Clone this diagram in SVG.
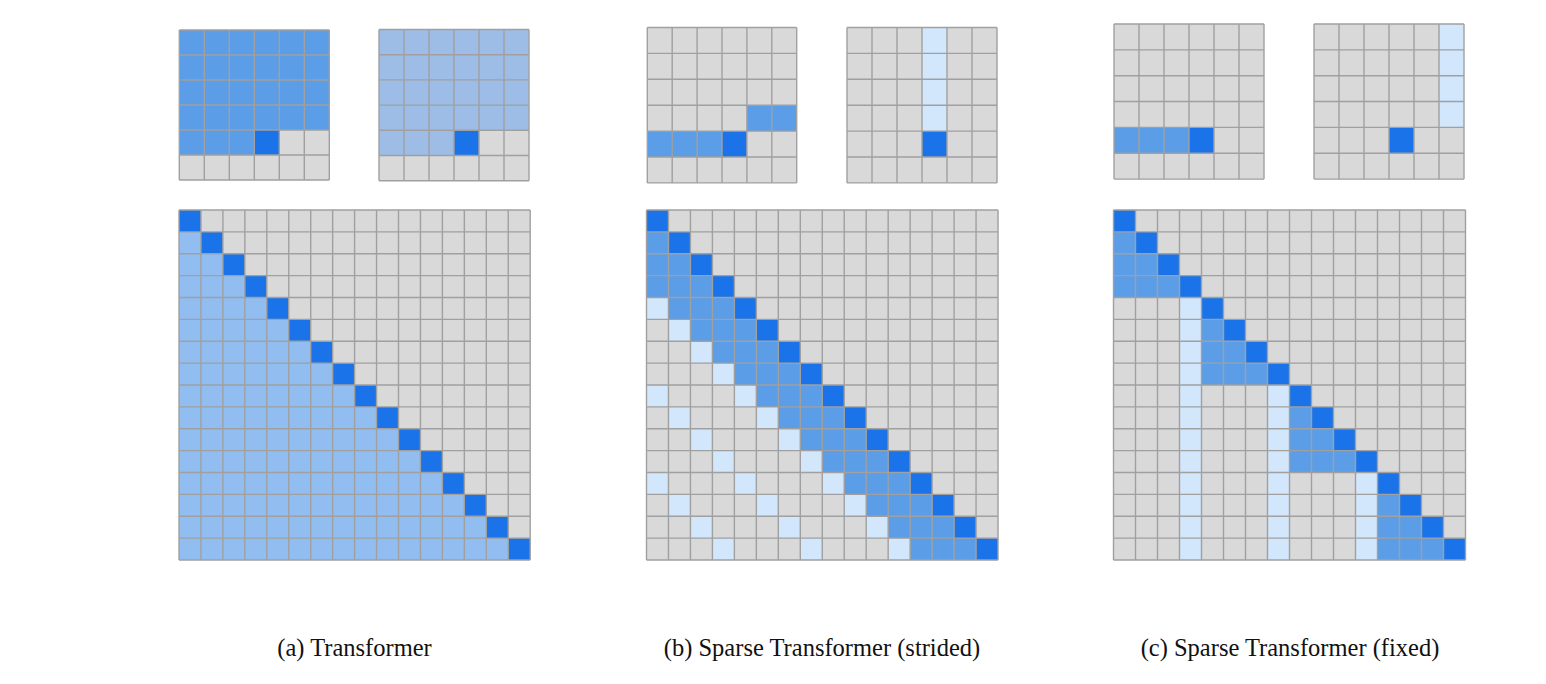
<svg xmlns="http://www.w3.org/2000/svg" xmlns:xlink="http://www.w3.org/1999/xlink" width="1546" height="684" viewBox="0 0 1546 684">
<style>
.bg{fill:#d9d9d9}
.dk{fill:#1a73e8}
.md{fill:#5c9de8}
.ls{fill:#9dbde6}
.lb{fill:#92bdf0}
.vl{fill:#d2e6fc}
.grid{fill:none;stroke:#a0a0a0;stroke-width:1.4;vector-effect:non-scaling-stroke}
.cap{font-family:"Liberation Serif","Times New Roman",serif;font-size:24.5px;fill:#111;text-anchor:middle}
</style>
<defs>
<path id="g6" class="grid" d="M0 0V6M1 0V6M2 0V6M3 0V6M4 0V6M5 0V6M6 0V6M0 0H6M0 1H6M0 2H6M0 3H6M0 4H6M0 5H6M0 6H6"/>
<path id="g16" class="grid" d="M0 0V16M1 0V16M2 0V16M3 0V16M4 0V16M5 0V16M6 0V16M7 0V16M8 0V16M9 0V16M10 0V16M11 0V16M12 0V16M13 0V16M14 0V16M15 0V16M16 0V16M0 0H16M0 1H16M0 2H16M0 3H16M0 4H16M0 5H16M0 6H16M0 7H16M0 8H16M0 9H16M0 10H16M0 11H16M0 12H16M0 13H16M0 14H16M0 15H16M0 16H16"/>
<path id="diag16" d="M0 0h1v1h-1zM1 1h1v1h-1zM2 2h1v1h-1zM3 3h1v1h-1zM4 4h1v1h-1zM5 5h1v1h-1zM6 6h1v1h-1zM7 7h1v1h-1zM8 8h1v1h-1zM9 9h1v1h-1zM10 10h1v1h-1zM11 11h1v1h-1zM12 12h1v1h-1zM13 13h1v1h-1zM14 14h1v1h-1zM15 15h1v1h-1z"/>
<polygon id="tri4" points="0,1 1,1 1,2 2,2 2,3 3,3 3,4 0,4"/>
</defs>

<!-- (a) Transformer -->
<g id="a-small-1" transform="translate(179.3,30) scale(25,25)">
<rect class="bg" x="0" y="0" width="6" height="6"/>
<path class="md" d="M0 0H6V4H3V5H0Z"/>
<rect class="dk" x="3" y="4" width="1" height="1"/>
<use xlink:href="#g6"/>
</g>
<g id="a-small-2" transform="translate(379,29.5) scale(25,25.2)">
<rect class="bg" x="0" y="0" width="6" height="6"/>
<path class="ls" d="M0 0H6V4H3V5H0Z"/>
<rect class="dk" x="3" y="4" width="1" height="1"/>
<use xlink:href="#g6"/>
</g>
<g id="a-big" transform="translate(179,210) scale(21.95,21.875)">
<rect class="bg" x="0" y="0" width="16" height="16"/>
<polygon class="lb" points="0,1 1,1 1,2 2,2 2,3 3,3 3,4 4,4 4,5 5,5 5,6 6,6 6,7 7,7 7,8 8,8 8,9 9,9 9,10 10,10 10,11 11,11 11,12 12,12 12,13 13,13 13,14 14,14 14,15 15,15 15,16 0,16"/>
<use class="dk" xlink:href="#diag16"/>
<use xlink:href="#g16"/>
</g>

<!-- (b) Sparse Transformer (strided) -->
<g id="b-small-1" transform="translate(647.3,27.5) scale(24.9,25.9)">
<rect class="bg" x="0" y="0" width="6" height="6"/>
<rect class="md" x="4" y="3" width="2" height="1"/>
<rect class="md" x="0" y="4" width="3" height="1"/>
<rect class="dk" x="3" y="4" width="1" height="1"/>
<use xlink:href="#g6"/>
</g>
<g id="b-small-2" transform="translate(847,27.5) scale(25,25.9)">
<rect class="bg" x="0" y="0" width="6" height="6"/>
<rect class="vl" x="3" y="0" width="1" height="4"/>
<rect class="dk" x="3" y="4" width="1" height="1"/>
<use xlink:href="#g6"/>
</g>
<g id="b-big" transform="translate(646.5,210) scale(21.97,21.875)">
<rect class="bg" x="0" y="0" width="16" height="16"/>
<polygon class="md" points="0,1 1,1 1,2 2,2 2,3 3,3 3,4 4,4 4,5 5,5 5,6 6,6 6,7 7,7 7,8 8,8 8,9 9,9 9,10 10,10 10,11 11,11 11,12 12,12 12,13 13,13 13,14 14,14 14,15 15,15 15,16 12,16 12,15 11,15 11,14 10,14 10,13 9,13 9,12 8,12 8,11 7,11 7,10 6,10 6,9 5,9 5,8 4,8 4,7 3,7 3,6 2,6 2,5 1,5 1,4 0,4"/>
<path class="vl" d="M0 4h1v1h-1zM1 5h1v1h-1zM2 6h1v1h-1zM3 7h1v1h-1zM4 8h1v1h-1zM5 9h1v1h-1zM6 10h1v1h-1zM7 11h1v1h-1zM8 12h1v1h-1zM9 13h1v1h-1zM10 14h1v1h-1zM11 15h1v1h-1zM0 8h1v1h-1zM1 9h1v1h-1zM2 10h1v1h-1zM3 11h1v1h-1zM4 12h1v1h-1zM5 13h1v1h-1zM6 14h1v1h-1zM7 15h1v1h-1zM0 12h1v1h-1zM1 13h1v1h-1zM2 14h1v1h-1zM3 15h1v1h-1z"/>
<use class="dk" xlink:href="#diag16"/>
<use xlink:href="#g16"/>
</g>

<!-- (c) Sparse Transformer (fixed) -->
<g id="c-small-1" transform="translate(1114,24) scale(25,25.85)">
<rect class="bg" x="0" y="0" width="6" height="6"/>
<rect class="md" x="0" y="4" width="3" height="1"/>
<rect class="dk" x="3" y="4" width="1" height="1"/>
<use xlink:href="#g6"/>
</g>
<g id="c-small-2" transform="translate(1314,24) scale(25,25.85)">
<rect class="bg" x="0" y="0" width="6" height="6"/>
<rect class="vl" x="5" y="0" width="1" height="4"/>
<rect class="dk" x="3" y="4" width="1" height="1"/>
<use xlink:href="#g6"/>
</g>
<g id="c-big" transform="translate(1113.5,210) scale(22,21.875)">
<rect class="bg" x="0" y="0" width="16" height="16"/>
<use class="md" xlink:href="#tri4"/>
<use class="md" xlink:href="#tri4" x="4" y="4"/>
<use class="md" xlink:href="#tri4" x="8" y="8"/>
<use class="md" xlink:href="#tri4" x="12" y="12"/>
<rect class="vl" x="3" y="4" width="1" height="12"/>
<rect class="vl" x="7" y="8" width="1" height="8"/>
<rect class="vl" x="11" y="12" width="1" height="4"/>
<use class="dk" xlink:href="#diag16"/>
<use xlink:href="#g16"/>
</g>

<g id="captions">
<text class="cap" x="354.5" y="656">(a) Transformer</text>
<text class="cap" x="822" y="656">(b) Sparse Transformer (strided)</text>
<text class="cap" x="1290" y="656">(c) Sparse Transformer (fixed)</text>
</g>
<g id="connectors"/>
</svg>
